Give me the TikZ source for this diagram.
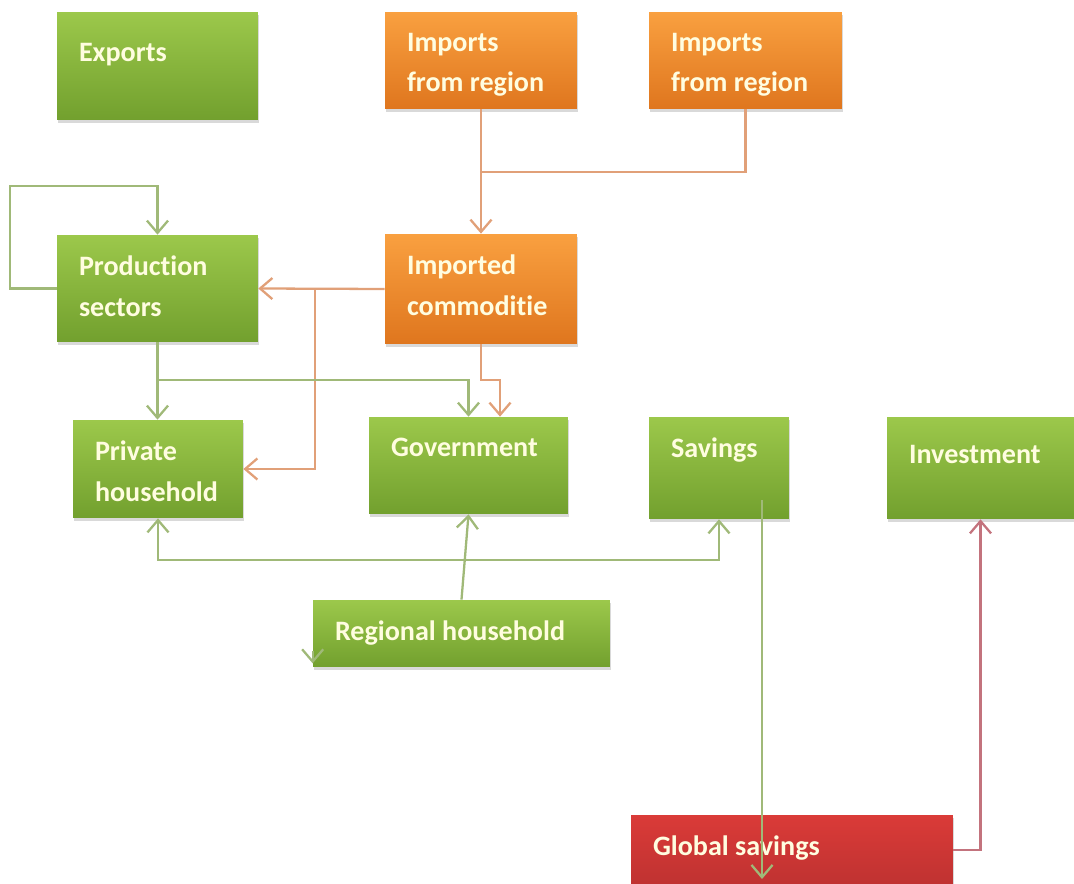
\documentclass[tikz,border=0pt]{standalone}
\usepackage{fontspec}
\setmainfont{Carlito}[Ligatures=NoCommon]
\usetikzlibrary{arrows.meta,calc,shadows}

\definecolor{gtop}{HTML}{9CC84B}
\definecolor{gbot}{HTML}{72A02E}
\definecolor{otop}{HTML}{F9A040}
\definecolor{obot}{HTML}{DF761E}
\definecolor{rtop}{HTML}{DA3B38}
\definecolor{rbot}{HTML}{B42E2E}
\definecolor{gline}{HTML}{A0B978}
\definecolor{oline}{HTML}{E1A078}
\definecolor{rline}{HTML}{C3737D}

\begin{document}
\begin{tikzpicture}[x=0.02cm, y=0.02cm, >={Straight Barb[length=7pt,width=12pt]}]
    \tikzstyle{box} = [rectangle, inner sep=0pt, shade,
                       drop shadow={opacity=0.3, shadow xshift=0.4pt, shadow yshift=-1.6pt}]
    \tikzstyle{gbox} = [box, top color=gtop, bottom color=gbot]
    \tikzstyle{obox} = [box, top color=otop, bottom color=obot]
    \tikzstyle{rbox} = [box, top color=rtop, bottom color=rbot]
    \tikzstyle{txt} = [anchor=north west, inner sep=0pt, align=left, text=white!88!yellow,
                       font=\bfseries\fontsize{16}{23.2}\selectfont, shift={(22,-21)}]
    \tikzstyle{gflow} = [draw=gline, line width=1.3pt]
    \tikzstyle{oflow} = [draw=oline, line width=1.3pt]
    \tikzstyle{rflow} = [draw=rline, line width=1.3pt]
  \useasboundingbox (0,0) rectangle (1074,883);
  \clip (0,0) rectangle (1074,883);
  % top row
  \node[gbox, minimum width=4.02cm, minimum height=2.16cm,
        label={[txt, yshift=-6pt]north west:Exports}](exports) at (157.5,817){};
  \node[obox, minimum width=3.84cm, minimum height=1.94cm,
        label={[txt]north west:Imports\\from region}](imp1) at (481,822.5){};
  \node[obox, minimum width=3.86cm, minimum height=1.94cm,
        label={[txt]north west:Imports\\from region}](imp2) at (745.5,822.5){};
  % second row
  \node[gbox, minimum width=4.02cm, minimum height=2.14cm,
        label={[txt]north west:Production\\sectors}](prod) at (157.5,594.5){};
  \node[obox, minimum width=3.84cm, minimum height=2.20cm,
        label={[txt]north west:Imported\\commoditie}](impc) at (481,594){};
  % third row
  \node[gbox, minimum width=3.40cm, minimum height=1.96cm,
        label={[txt]north west:Private\\household}](priv) at (158,414){};
  \node[gbox, minimum width=3.98cm, minimum height=1.94cm,
        label={[txt]north west:Government}](gov) at (468.5,417.5){};
  \node[gbox, minimum width=2.80cm, minimum height=2.04cm,
        label={[txt]north west:Savings}](sav) at (719,415){};
  \node[gbox, minimum width=3.74cm, minimum height=2.04cm,
        label={[txt, yshift=-4pt]north west:Investment}](inv) at (980.5,415){};
  % bottom
  \node[gbox, minimum width=5.94cm, minimum height=1.34cm,
        label={[txt]north west:Regional household}](reg) at (461.5,249.5){};
  \node[rbox, minimum width=6.44cm, minimum height=2.00cm,
        label={[txt]north west:Global savings}](glob) at (792,18){};

  \coordinate (j1) at (481,711);
  \coordinate (b1) at (315,594);
  \coordinate (b2) at (157.5,503);
  \coordinate (j2) at (464.5,323);
  \coordinate (s1) at (762,383);
  \coordinate (s2) at (762,4);

  % imports
  \draw[oflow, ->] (imp1) -- (impc);
  \draw[oflow] (imp2.south) |- (j1);
  \draw[oflow, ->] (impc.west) -- (prod.east);
  \draw[oflow, ->] (b1) |- (priv.east);
  \draw[oflow, ->] (impc.south) -- ++(0,-36) -| ($(gov.north)+(31.5,0)$);
  % production
  \draw[gflow, ->] (prod.west) -- ++(-47,0) -- ++(0,102.5) -| (prod.north);
  \draw[gflow, ->] (prod.south) -- (prod.south |- priv.north);
  \draw[gflow, ->] (b2) -| (gov.north);
  % regional household
  \draw[gflow, ->] (reg.north) -- (gov.south);
  \draw[gflow, ->] (j2) -| (priv.south);
  \draw[gflow, ->] (j2) -| (sav.south);
  \draw[gflow, ->] ($(reg.south west)+(0,16)$) -- ($(reg.south west)+(0,4)$);
  % savings
  \draw[gflow, ->] (s1) -- (s2);
  \draw[rflow, ->] ([yshift=15*0.02cm]glob.east) -| (inv.south);
\end{tikzpicture}
\end{document}
